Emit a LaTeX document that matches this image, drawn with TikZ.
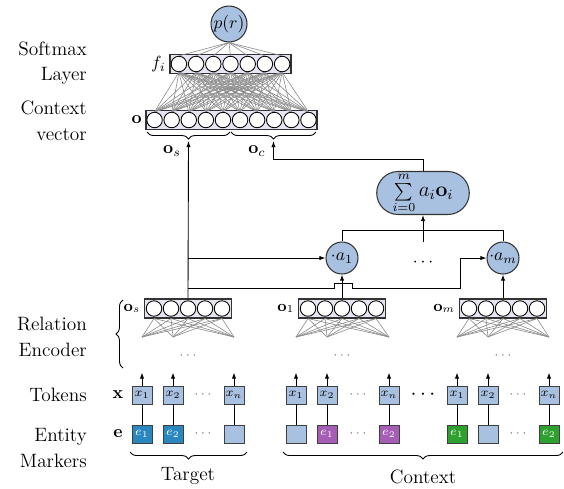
\documentclass[tikz,border=0pt]{standalone}
\usetikzlibrary{arrows.meta,shapes.misc,decorations.pathreplacing}
\definecolor{nodeblue}{RGB}{169,193,224}
\definecolor{layerfill}{RGB}{232,228,242}
\definecolor{entteal}{RGB}{43,135,192}
\definecolor{entpurple}{RGB}{165,93,181}
\definecolor{entgreen}{RGB}{46,160,46}
\begin{document}
\begin{tikzpicture}[x=0.02cm, y=-0.02cm,
  unit/.style={circle, draw, fill=white, inner sep=0pt, minimum size=0.31cm, line width=0.5pt},
  layer/.style={rectangle, draw=black!80, fill=layerfill, inner sep=0pt, minimum height=0.38cm, line width=0.6pt},
  blob/.style={circle, draw=black!80, fill=nodeblue, inner sep=0pt, line width=0.6pt},
  tok/.style={rectangle, draw=black!75, fill=nodeblue, inner sep=0pt, minimum width=0.4cm, minimum height=0.36cm, font=\scriptsize, line width=0.5pt},
  wire/.style={black!45, line width=0.35pt},
  arrow/.style={-{Latex[length=3.5pt,width=2.5pt]}, line width=0.5pt},
  brc/.style={decorate, decoration={brace, amplitude=4pt}, line width=0.5pt},
  lbl/.style={anchor=east, align=right, font=\fontsize{11}{14.5}\selectfont},
  dots/.style={text=black!60, font=\scriptsize}
]
\useasboundingbox (0,0) rectangle (564,488);

% softmax layer
\node[blob, minimum size=0.72cm] (pr) at (229,24) {$p(r)$};
\node[layer, minimum width=2.42cm] (fbox) at (230.5,64) {};
\foreach \i in {1,...,7}
  \node[unit] (f\i) at ({230.5+(\i-4)*17.2},64) {};
\node[anchor=east, inner sep=2pt] at (fbox.west) {$f_i$};

% context vector
\node[layer, minimum width=3.42cm] (cbox) at (231.5,120) {};
\foreach \i in {1,...,10}
  \node[unit] (c\i) at ({231.5+(\i-5.5)*17.1},120) {};
\node[anchor=east, inner sep=2pt] at (cbox.west) {$\mathbf{o}$};

% dense connections
\foreach \i in {1,...,7} {
  \draw[wire] (pr.south) -- (f\i.north);
  \foreach \j in {1,...,10}
    \draw[wire] (f\i.south) -- (c\j.north);
}

% split of the context vector
\draw[brc] (230,132) -- (147,132);
\draw[brc] (316,132) -- (231,132);
\coordinate (ostip) at (188.5,141);
\coordinate (octip) at (273.5,141);
\node at (172,151) {$\mathbf{o}_s$};
\node at (257,151) {$\mathbf{o}_c$};

% attention
\node[rounded rectangle, draw=black!80, fill=nodeblue, line width=0.6pt, minimum width=1.48cm, minimum height=0.86cm, inner sep=0.5pt] (sum) at (423,193) {$\sum\limits_{i=0}^{m}$\large$\,a_i\mathbf{o}_i$};
\node[blob, minimum size=0.64cm] (a1) at (342,258) {$\cdot a_1$};
\node[blob, minimum size=0.64cm] (am) at (503,258) {$\cdot a_m$};
\node[minimum height=0.84cm] (adots) at (423,263) {$\cdots$};
\draw (a1.north) -- ++(0,-11) -| (am.north);
\draw[arrow] (adots.north) -- (sum.south);
\draw[arrow] (sum.north) -- ++(0,-12) -| (octip);

% relation encoders
\foreach \g/\cx/\lab in {s/188/\mathbf{o}_s, 1/342/\mathbf{o}_1, m/503/\mathbf{o}_m} {
  \node[layer, minimum width=1.74cm] (enc-\g) at (\cx,308.5) {};
  \foreach \k in {1,...,5}
    \node[unit] (enc-\g-\k) at ({\cx+(\k-3)*17},308.5) {};
  \node[anchor=east, inner sep=2pt, font=\small] at (enc-\g.west) {$\lab$};
  \node[dots] at (\cx,356) {$\cdots$};
}
\foreach \g/\a/\b/\c in {s/142/173/234, 1/296/327/389, m/457/488/549} {
  \coordinate (fan-\g-1) at (\a,337);
  \coordinate (fan-\g-2) at (\b,337);
  \coordinate (fan-\g-n) at (\c,337);
  \foreach \k in {1,...,5}
    \foreach \t in {1,2,n}
      \draw[wire] (enc-\g-\k |- enc-\g.south) -- (fan-\g-\t);
}
\draw[brc] (123,368) -- (123,300);

% encoder outputs
\draw[arrow] (enc-s.north) -- (ostip);
\draw[arrow] (enc-s.north |- a1) -- (a1);
\draw[arrow] (enc-s.north |- 0,288) -- (334,288) -- (334,283) -- (352,283) -- (352,288) -- (460,288) |- (am);
\draw[arrow] (enc-1.north) -- (a1);
\draw[arrow] (enc-m.north) -- (am);

% tokens
\foreach \g/\a/\b/\c/\d in {s/142/173/234/203, 1/296/327/389/358, m/457/488/549/518} {
  \node[tok] (x-\g-1) at (\a,395) {$x_1$};
  \node[tok] (x-\g-2) at (\b,395) {$x_2$};
  \node[tok] (x-\g-n) at (\c,395) {$x_n$};
  \node[dots] at (\d,395) {$\cdots$};
  \node[dots] at (\d,434) {$\cdots$};
  \foreach \t in {1,2,n}
    \draw[arrow] (x-\g-\t.north) -- ++(0,-13) coordinate (in-\g-\t);
}
\node[font=\large] at (423,395) {$\cdots$};

% entity markers
\node[tok, fill=entteal, text=white] (e-s-1) at (142,434) {$e_1$};
\node[tok, fill=entteal, text=white] (e-s-2) at (173,434) {$e_2$};
\node[tok] (e-s-n) at (234,434) {};
\node[tok] (e-1-1) at (296,434) {};
\node[tok, fill=entpurple, text=white] (e-1-2) at (327,434) {$e_1$};
\node[tok, fill=entpurple, text=white] (e-1-n) at (389,434) {$e_2$};
\node[tok, fill=entgreen, text=white] (e-m-1) at (457,434) {$e_1$};
\node[tok] (e-m-2) at (488,434) {};
\node[tok, fill=entgreen, text=white] (e-m-n) at (549,434) {$e_2$};
\foreach \g in {s,1,m}
  \foreach \t in {1,2,n}
    \draw[line width=0.5pt] (x-\g-\t) -- (e-\g-\t);
\node at (118,395) {$\mathbf{x}$};
\node at (118,434) {$\mathbf{e}$};

% groups
\draw[brc] (247,452) -- (130,452);
\draw[brc] (563,452) -- (283,452);
\node[font=\fontsize{11}{14.5}\selectfont] (target) at (188,476) {Target};
\node[font=\fontsize{11}{14.5}\selectfont] (context) at (423,477) {Context};

% row labels
\node[lbl] at (93,63) {Softmax\\Layer};
\node[lbl] at (93,121) {Context\\vector};
\node[lbl] at (93,337) {Relation\\Encoder};
\node[lbl] at (93,395) {Tokens};
\node[lbl] at (93,448) {Entity\\Markers};
\end{tikzpicture}
\end{document}
